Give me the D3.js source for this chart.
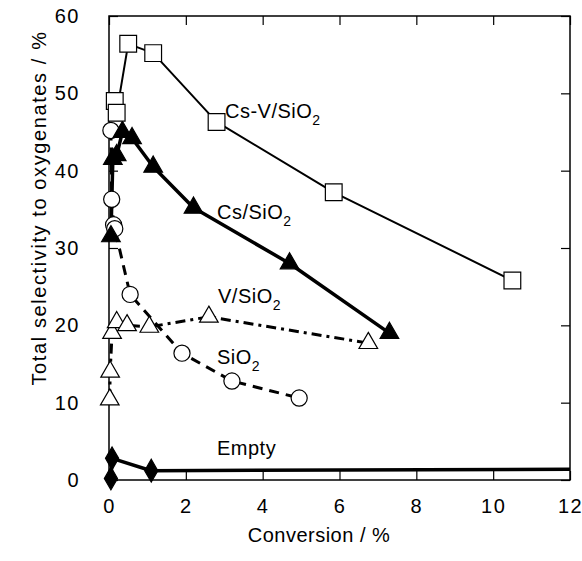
<!DOCTYPE html>
<html><head><meta charset="utf-8">
<script src="https://cdn.jsdelivr.net/npm/d3@7"></script>
<style>
body{margin:0;background:#fff;}
text{font-family:"Liberation Sans",Arial,sans-serif;fill:#000;}
</style></head>
<body><svg id="c" width="582" height="561"></svg>
<script>
const xTicks=[0,2,4,6,8,10,12];
const yTicks=[0,10,20,30,40,50,60];
const csvX=[0.15,0.2,0.5,1.15,2.8,5.85,10.5];
const csvY=[49,47.5,56.4,55.2,46.3,37.2,25.8];
const csX=[0.05,0.1,0.2,0.35,0.6,1.15,2.2,4.7,7.3];
const csY=[31.5,41.5,42,45,44.2,40.5,35.2,28,19];
const vX=[0.02,0.03,0.08,0.2,0.47,1.05,2.6,6.75];
const vY=[10.4,14,19,20.4,20,19.8,21.1,17.7];
const siX=[0.05,0.07,0.12,0.15,0.55,1.9,3.2,4.95];
const siY=[45.2,36.3,33,32.5,24,16.4,12.8,10.6];
const emX=[0.05,0.08,1.1,12];
const emY=[0.2,2.8,1.2,1.4];
const emMarkers=[true,true,true,false];

const svg=d3.select("#c");
const L=109,R=570,T=16,B=480;
const x=d3.scaleLinear().domain([0,12]).range([L,R]);
const y=d3.scaleLinear().domain([0,60]).range([B,T]);

svg.append("rect").attr("x",L).attr("y",T).attr("width",R-L).attr("height",B-T)
  .attr("fill","none").attr("stroke","#000").attr("stroke-width",1.5);

const tk=9;
const gB=svg.append("g").attr("transform",`translate(0,${B})`).call(d3.axisBottom(x).tickValues(xTicks).tickSize(-tk).tickPadding(19).tickFormat(d3.format("d")));
const gT=svg.append("g").attr("transform",`translate(0,${T})`).call(d3.axisTop(x).tickValues(xTicks).tickSize(-tk).tickFormat(""));
const gL=svg.append("g").attr("transform",`translate(${L},0)`).call(d3.axisLeft(y).tickValues(yTicks).tickSize(-tk).tickPadding(29).tickFormat(d3.format("d")));
const gR=svg.append("g").attr("transform",`translate(${R},0)`).call(d3.axisRight(y).tickValues(yTicks).tickSize(-tk).tickFormat(""));
[gB,gT,gL,gR].forEach(g=>{g.select(".domain").remove();g.selectAll("line").attr("stroke","#000").attr("stroke-width",1.2);
  g.selectAll("text").style("font-family","Liberation Sans, Arial, sans-serif").style("font-size","20px").style("letter-spacing","1.5px").attr("fill","#000");});

svg.append("text").attr("x",319).attr("y",542).attr("text-anchor","middle").style("font-size","20px").style("letter-spacing","0.5px").text("Conversion / %");
svg.append("text").attr("transform","translate(46,208) rotate(-90)").attr("text-anchor","middle").style("font-size","20px").style("letter-spacing","1.6px").text("Total selectivity to oxygenates / %");

const line=d3.line().x(d=>x(d[0])).y(d=>y(d[1]));
const zip=(a,b)=>a.map((v,i)=>[v,b[i]]);

function drawLine(data,w,dash){
  svg.append("path").datum(data).attr("d",line).attr("fill","none").attr("stroke","#000")
    .attr("stroke-width",w).attr("stroke-dasharray",dash||null).attr("stroke-linejoin","round");
}
const em=zip(emX,emY), si=zip(siX,siY), v=zip(vX,vY), cs=zip(csX,csY), csv=zip(csvX,csvY);
drawLine(em,3.5);
drawLine(si,3,"10,7");
drawLine(v,3,"10,5,3,5");
drawLine(cs,3.5);
drawLine(csv,2);

function markers(data,type,size,fill){
  svg.append("g").selectAll("path").data(data).join("path")
    .attr("transform",d=>`translate(${x(d[0])},${y(d[1])})`)
    .attr("d",d3.symbol().type(type).size(size))
    .attr("fill",fill).attr("stroke","#000").attr("stroke-width",1.2);
}
markers(em.filter((d,i)=>emMarkers[i]),d3.symbolDiamond,150,"#000");
markers(si,d3.symbolCircle,205,"#fff");
markers(v,d3.symbolTriangle,150,"#fff");
markers(cs,d3.symbolTriangle,150,"#000");
markers(csv,d3.symbolSquare,280,"#fff");

function label(tx,ty,main,sub){
  const t=svg.append("text").attr("x",tx).attr("y",ty).style("font-size","20px").style("letter-spacing","0.5px");
  t.append("tspan").text(main);
  if(sub){t.append("tspan").attr("dy",7).style("font-size","14px").text(sub);}
}
label(225,118,"Cs-V/SiO","2");
label(217,219,"Cs/SiO","2");
label(218,303,"V/SiO","2");
label(217,364,"SiO","2");
label(217,455,"Empty");
</script></body></html>
